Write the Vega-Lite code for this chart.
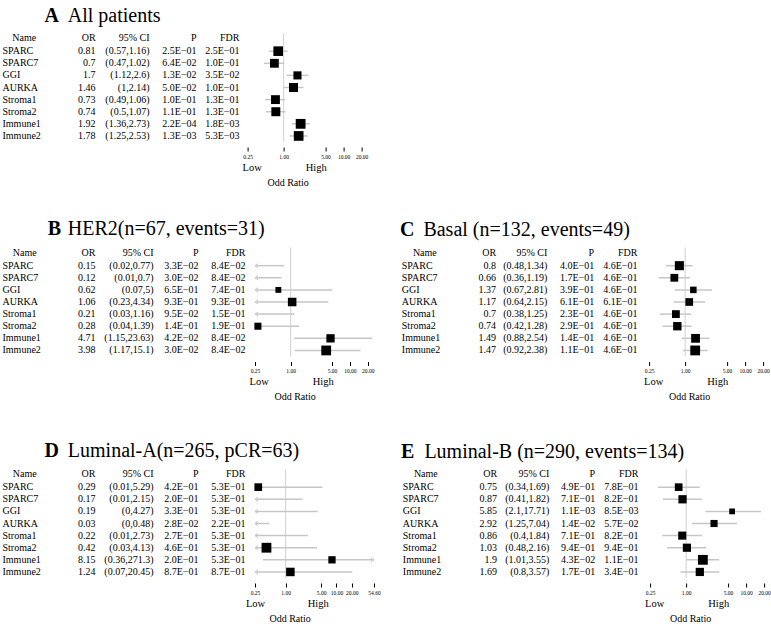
{
"$schema": "https://vega.github.io/schema/vega-lite/v6.json",
"background": "white",
"padding": {"left": 0, "top": 6, "right": 0, "bottom": 0},
"autosize": {"type": "pad"},
"config": {
 "view": {"stroke": null},
 "font": "Liberation Serif",
 "text": {"font": "Liberation Serif", "fontSize": 10, "color": "black"},
 "scale": {"bandPaddingInner": 0, "bandPaddingOuter": 0},
 "axisY": {"disable": true},
 "axisBand": {"disable": true},
 "axis": {"domain": false, "grid": false, "labelFont": "Liberation Serif", "labelColor": "black", "labelFlush": false, "labelOverlap": false}
},
"datasets": {
 "hdrs": [{"k":"ors","label":"OR"},{"k":"ci","label":"95% CI"},{"k":"p","label":"P"},{"k":"fdr","label":"FDR"}],
 "panels": [
  {"g":"A","letter":"A","title":"All patients"},
  {"g":"B","letter":"B","title":"HER2(n=67, events=31)"},
  {"g":"C","letter":"C","title":"Basal (n=132, events=49)"},
  {"g":"D","letter":"D","title":"Luminal-A(n=265, pCR=63)"},
  {"g":"E","letter":"E","title":"Luminal-B (n=290, events=134)"}
 ],
 "rows": [
  {"g":"A","name":"SPARC","or":0.81,"lo":0.57,"hi":1.16,"p":"2.5E−01","fdr":"2.5E−01"},
  {"g":"A","name":"SPARC7","or":0.7,"lo":0.47,"hi":1.02,"p":"6.4E−02","fdr":"1.0E−01"},
  {"g":"A","name":"GGI","or":1.7,"lo":1.12,"hi":2.6,"p":"1.3E−02","fdr":"3.5E−02"},
  {"g":"A","name":"AURKA","or":1.46,"lo":1,"hi":2.14,"p":"5.0E−02","fdr":"1.0E−01"},
  {"g":"A","name":"Stroma1","or":0.73,"lo":0.49,"hi":1.06,"p":"1.0E−01","fdr":"1.3E−01"},
  {"g":"A","name":"Stroma2","or":0.74,"lo":0.5,"hi":1.07,"p":"1.1E−01","fdr":"1.3E−01"},
  {"g":"A","name":"Immune1","or":1.92,"lo":1.36,"hi":2.73,"p":"2.2E−04","fdr":"1.8E−03"},
  {"g":"A","name":"Immune2","or":1.78,"lo":1.25,"hi":2.53,"p":"1.3E−03","fdr":"5.3E−03"},
  {"g":"B","name":"SPARC","or":0.15,"lo":0.02,"hi":0.77,"p":"3.3E−02","fdr":"8.4E−02"},
  {"g":"B","name":"SPARC7","or":0.12,"lo":0.01,"hi":0.7,"p":"3.0E−02","fdr":"8.4E−02"},
  {"g":"B","name":"GGI","or":0.62,"lo":0.07,"hi":5,"p":"6.5E−01","fdr":"7.4E−01"},
  {"g":"B","name":"AURKA","or":1.06,"lo":0.23,"hi":4.34,"p":"9.3E−01","fdr":"9.3E−01"},
  {"g":"B","name":"Stroma1","or":0.21,"lo":0.03,"hi":1.16,"p":"9.5E−02","fdr":"1.5E−01"},
  {"g":"B","name":"Stroma2","or":0.28,"lo":0.04,"hi":1.39,"p":"1.4E−01","fdr":"1.9E−01"},
  {"g":"B","name":"Immune1","or":4.71,"lo":1.15,"hi":23.63,"p":"4.2E−02","fdr":"8.4E−02"},
  {"g":"B","name":"Immune2","or":3.98,"lo":1.17,"hi":15.1,"p":"3.0E−02","fdr":"8.4E−02"},
  {"g":"C","name":"SPARC","or":0.8,"lo":0.48,"hi":1.34,"p":"4.0E−01","fdr":"4.6E−01"},
  {"g":"C","name":"SPARC7","or":0.66,"lo":0.36,"hi":1.19,"p":"1.7E−01","fdr":"4.6E−01"},
  {"g":"C","name":"GGI","or":1.37,"lo":0.67,"hi":2.81,"p":"3.9E−01","fdr":"4.6E−01"},
  {"g":"C","name":"AURKA","or":1.17,"lo":0.64,"hi":2.15,"p":"6.1E−01","fdr":"6.1E−01"},
  {"g":"C","name":"Stroma1","or":0.7,"lo":0.38,"hi":1.25,"p":"2.3E−01","fdr":"4.6E−01"},
  {"g":"C","name":"Stroma2","or":0.74,"lo":0.42,"hi":1.28,"p":"2.9E−01","fdr":"4.6E−01"},
  {"g":"C","name":"Immune1","or":1.49,"lo":0.88,"hi":2.54,"p":"1.4E−01","fdr":"4.6E−01"},
  {"g":"C","name":"Immune2","or":1.47,"lo":0.92,"hi":2.38,"p":"1.1E−01","fdr":"4.6E−01"},
  {"g":"D","name":"SPARC","or":0.29,"lo":0.01,"hi":5.29,"p":"4.2E−01","fdr":"5.3E−01"},
  {"g":"D","name":"SPARC7","or":0.17,"lo":0.01,"hi":2.15,"p":"2.0E−01","fdr":"5.3E−01"},
  {"g":"D","name":"GGI","or":0.19,"lo":0,"hi":4.27,"p":"3.3E−01","fdr":"5.3E−01"},
  {"g":"D","name":"AURKA","or":0.03,"lo":0,"hi":0.48,"p":"2.8E−02","fdr":"2.2E−01"},
  {"g":"D","name":"Stroma1","or":0.22,"lo":0.01,"hi":2.73,"p":"2.7E−01","fdr":"5.3E−01"},
  {"g":"D","name":"Stroma2","or":0.42,"lo":0.03,"hi":4.13,"p":"4.6E−01","fdr":"5.3E−01"},
  {"g":"D","name":"Immune1","or":8.15,"lo":0.36,"hi":271.3,"p":"2.0E−01","fdr":"5.3E−01"},
  {"g":"D","name":"Immune2","or":1.24,"lo":0.07,"hi":20.45,"p":"8.7E−01","fdr":"8.7E−01"},
  {"g":"E","name":"SPARC","or":0.75,"lo":0.34,"hi":1.69,"p":"4.9E−01","fdr":"7.8E−01"},
  {"g":"E","name":"SPARC7","or":0.87,"lo":0.41,"hi":1.82,"p":"7.1E−01","fdr":"8.2E−01"},
  {"g":"E","name":"GGI","or":5.85,"lo":2.1,"hi":17.71,"p":"1.1E−03","fdr":"8.5E−03"},
  {"g":"E","name":"AURKA","or":2.92,"lo":1.25,"hi":7.04,"p":"1.4E−02","fdr":"5.7E−02"},
  {"g":"E","name":"Stroma1","or":0.86,"lo":0.4,"hi":1.84,"p":"7.1E−01","fdr":"8.2E−01"},
  {"g":"E","name":"Stroma2","or":1.03,"lo":0.48,"hi":2.16,"p":"9.4E−01","fdr":"9.4E−01"},
  {"g":"E","name":"Immune1","or":1.9,"lo":1.01,"hi":3.55,"p":"4.3E−02","fdr":"1.1E−01"},
  {"g":"E","name":"Immune2","or":1.69,"lo":0.8,"hi":3.57,"p":"1.7E−01","fdr":"3.4E−01"}
 ]
},
"spacing": 30.5,
"vconcat": [
 {"hconcat": [
  {"width": 242.9, "height": 109, "layer": [
   {"data":{"name":"rows"},"transform":[{"filter":"datum.g=='A'"},{"calculate":"'('+datum.lo+','+datum.hi+')'","as":"ci"},{"calculate":"''+datum.or","as":"ors"},{"fold":["ors","ci","p","fdr"]}],
    "mark":{"type":"text","align":"right","dx":{"expr":"datum.key=='ors'?-1.6:datum.key=='ci'?3.8:datum.key=='p'?2.2:-3.4"}},
    "encoding":{"x":{"field":"key","type":"nominal","bandPosition":1,"scale":{"type":"band","domain":["name","ors","ci","p","fdr"]}},
     "y":{"field":"name","type":"nominal","scale":{"type":"band","domain":["hdr","SPARC","SPARC7","GGI","AURKA","Stroma1","Stroma2","Immune1","Immune2"]}},
     "text":{"field":"value","type":"nominal"}}},
   {"data":{"name":"rows"},"transform":[{"filter":"datum.g=='A'"}],"mark":{"type":"text","align":"left","dx":2.5},
    "encoding":{"x":{"datum":"name","bandPosition":0},"y":{"field":"name","type":"nominal"},"text":{"field":"name","type":"nominal"}}},
   {"data":{"name":"hdrs"},"mark":{"type":"text","align":"right","dy":-1,"dx":{"expr":"datum.k=='ors'?-1.6:datum.k=='ci'?3.8:datum.k=='p'?2.2:-3.4"}},
    "encoding":{"x":{"field":"k","type":"nominal","bandPosition":1},"y":{"datum":"hdr"},"text":{"field":"label","type":"nominal"}}},
   {"data":{"values":[{"label":"Name"}]},"mark":{"type":"text","align":"center","dy":-1},
    "encoding":{"x":{"datum":"name","bandPosition":0.5},"y":{"datum":"hdr"},"text":{"field":"label","type":"nominal"}}},
   {"data":{"name":"panels"},"transform":[{"filter":"datum.g=='A'"}],"mark":{"type":"text","align":"left","baseline":"alphabetic","fontSize":20,"fontWeight":"bold","dx":44.5,"dy":-16.9},
    "encoding":{"x":{"datum":"name","bandPosition":0},"y":{"datum":"hdr"},"text":{"field":"letter","type":"nominal"}}},
   {"data":{"name":"panels"},"transform":[{"filter":"datum.g=='A'"}],"mark":{"type":"text","align":"left","baseline":"alphabetic","fontSize":20,"dx":67.8,"dy":-16.9},
    "encoding":{"x":{"datum":"name","bandPosition":0},"y":{"datum":"hdr"},"text":{"field":"title","type":"nominal"}}}
  ]},
  {"width": 114, "height": 109, "resolve": {"axis": {"x": "independent"}}, "layer": [
   {"data":{"values":[{}]},"mark":{"type":"rule","color":"#d0d0d0","strokeWidth":1},
    "encoding":{"x":{"datum":1,"type":"quantitative","scale":{"type":"log","domain":[0.25,20],"clamp":true,"nice":false},
     "axis":{"orient":"bottom","values":[0.292,3.42],"labelExpr":"datum.value < 1 ? 'Low' : 'High'","ticks":false,"tickSize":0,"labelFontSize":10.5,"labelPadding":20.3,"title":null}}}},
   {"data":{"name":"rows"},"transform":[{"filter":"datum.g=='A'"}],"mark":{"type":"rule","color":"#c6c6c6","strokeWidth":1.5,"invalid":"show"},
    "encoding":{"x":{"field":"lo","type":"quantitative","scale":{"type":"log","domain":[0.25,20],"clamp":true,"nice":false},
     "axis":{"orient":"bottom","values":[0.25,1,5,10,20],"format":".2f","tickSize":4,"tickColor":"black","labelFontSize":5.5,"labelPadding":3,"offset":5,"title":null}},
     "x2":{"field":"hi"},
     "y":{"field":"name","type":"nominal","scale":{"type":"band","domain":["hdr","SPARC","SPARC7","GGI","AURKA","Stroma1","Stroma2","Immune1","Immune2"]}}}},
   {"data":{"name":"rows"},"transform":[{"filter":"datum.g=='A'"},{"calculate":"1/(log(datum.hi)-log(datum.lo))","as":"w"},{"joinaggregate":[{"op":"max","field":"w","as":"mw"}]},{"calculate":"datum.w/datum.mw","as":"rel"},{"filter":"datum.or >= 0.25"}],
    "mark":{"type":"point","shape":"square","filled":true,"color":"black","opacity":1},
    "encoding":{"x":{"field":"or","type":"quantitative","scale":{"type":"log","domain":[0.25,20],"clamp":true,"nice":false},
     "axis":{"orient":"bottom","values":[1.166],"labelExpr":"'Odd Ratio'","ticks":false,"tickSize":0,"labelFontSize":10,"labelPadding":35.3,"title":null}},
     "y":{"field":"name","type":"nominal"},
     "size":{"field":"rel","type":"quantitative","scale":{"type":"pow","exponent":2,"domain":[0,1],"range":[0,96]},"legend":null}}}
  ]}
 ], "spacing": 4.6, "bounds": "flush"},
 {"spacing": 37.5, "vconcat": [
  {"spacing": 26, "hconcat": [
   {"spacing": 7, "bounds": "flush", "hconcat": [
    {"width": 247.5, "height": 109, "layer": [
     {"data":{"name":"rows"},"transform":[{"filter":"datum.g=='B'"},{"calculate":"'('+datum.lo+','+datum.hi+')'","as":"ci"},{"calculate":"''+datum.or","as":"ors"},{"fold":["ors","ci","p","fdr"]}],
      "mark":{"type":"text","align":"right","dx":{"expr":"datum.key=='ors'?-3.5:datum.key=='ci'?5:datum.key=='p'?0.5:-2"}},
      "encoding":{"x":{"field":"key","type":"nominal","bandPosition":1,"scale":{"type":"band","domain":["name","ors","ci","p","fdr"]}},
       "y":{"field":"name","type":"nominal","scale":{"type":"band","domain":["hdr","SPARC","SPARC7","GGI","AURKA","Stroma1","Stroma2","Immune1","Immune2"]}},
       "text":{"field":"value","type":"nominal"}}},
     {"data":{"name":"rows"},"transform":[{"filter":"datum.g=='B'"}],"mark":{"type":"text","align":"left","dx":2.5},
      "encoding":{"x":{"datum":"name","bandPosition":0},"y":{"field":"name","type":"nominal"},"text":{"field":"name","type":"nominal"}}},
     {"data":{"name":"hdrs"},"mark":{"type":"text","align":"right","dy":-1,"dx":{"expr":"datum.k=='ors'?-3.5:datum.k=='ci'?5:datum.k=='p'?0.5:-2"}},
      "encoding":{"x":{"field":"k","type":"nominal","bandPosition":1},"y":{"datum":"hdr"},"text":{"field":"label","type":"nominal"}}},
     {"data":{"values":[{"label":"Name"}]},"mark":{"type":"text","align":"center","dy":-1},
      "encoding":{"x":{"datum":"name","bandPosition":0.5},"y":{"datum":"hdr"},"text":{"field":"label","type":"nominal"}}},
     {"data":{"name":"panels"},"transform":[{"filter":"datum.g=='B'"}],"mark":{"type":"text","align":"left","baseline":"alphabetic","fontSize":20,"fontWeight":"bold","dx":47.8,"dy":-18.5},
      "encoding":{"x":{"datum":"name","bandPosition":0},"y":{"datum":"hdr"},"text":{"field":"letter","type":"nominal"}}},
     {"data":{"name":"panels"},"transform":[{"filter":"datum.g=='B'"}],"mark":{"type":"text","align":"left","baseline":"alphabetic","fontSize":20,"dx":67.8,"dy":-18.5},
      "encoding":{"x":{"datum":"name","bandPosition":0},"y":{"datum":"hdr"},"text":{"field":"title","type":"nominal"}}}
    ]},
    {"width": 117, "height": 109, "resolve": {"axis": {"x": "independent"}}, "layer": [
     {"data":{"values":[{}]},"mark":{"type":"rule","color":"#d0d0d0","strokeWidth":1},
      "encoding":{"x":{"datum":1,"type":"quantitative","scale":{"type":"log","domain":[0.25,23.63],"clamp":true,"nice":false},
       "axis":{"orient":"bottom","values":[0.288,3.47],"labelExpr":"datum.value < 1 ? 'Low' : 'High'","ticks":false,"tickSize":0,"labelFontSize":10.5,"labelPadding":20.3,"title":null}}}},
     {"data":{"name":"rows"},"transform":[{"filter":"datum.g=='B'"}],"mark":{"type":"rule","color":"#c6c6c6","strokeWidth":1.5,"invalid":"show"},
      "encoding":{"x":{"field":"lo","type":"quantitative","scale":{"type":"log","domain":[0.25,23.63],"clamp":true,"nice":false},
       "axis":{"orient":"bottom","values":[0.25,1,5,10,20],"format":".2f","tickSize":4,"tickColor":"black","labelFontSize":5.5,"labelPadding":3,"offset":5,"title":null}},
       "x2":{"field":"hi"},
       "y":{"field":"name","type":"nominal","scale":{"type":"band","domain":["hdr","SPARC","SPARC7","GGI","AURKA","Stroma1","Stroma2","Immune1","Immune2"]}}}},
     {"data":{"name":"rows"},"transform":[{"filter":"datum.g=='B' && datum.lo < 0.25"}],
      "mark":{"type":"point","shape":"M1.5,-1L0,0L1.5,1","filled":false,"color":"#c6c6c6","strokeWidth":1,"size":16,"opacity":1,"invalid":"show"},
      "encoding":{"x":{"field":"lo","type":"quantitative","scale":{"type":"log","domain":[0.25,23.63],"clamp":true,"nice":false},"axis":null},
       "y":{"field":"name","type":"nominal"}}},
     {"data":{"name":"rows"},"transform":[{"filter":"datum.g=='B'"},{"calculate":"1/(log(datum.hi)-log(datum.lo))","as":"w"},{"joinaggregate":[{"op":"max","field":"w","as":"mw"}]},{"calculate":"datum.w/datum.mw","as":"rel"},{"filter":"datum.or >= 0.25"}],
      "mark":{"type":"point","shape":"square","filled":true,"color":"black","opacity":1},
      "encoding":{"x":{"field":"or","type":"quantitative","scale":{"type":"log","domain":[0.25,23.63],"clamp":true,"nice":false},
       "axis":{"orient":"bottom","values":[1.168],"labelExpr":"'Odd Ratio'","ticks":false,"tickSize":0,"labelFontSize":10,"labelPadding":35.3,"title":null}},
       "y":{"field":"name","type":"nominal"},
       "size":{"field":"rel","type":"quantitative","scale":{"type":"pow","exponent":2,"domain":[0,1],"range":[0,96]},"legend":null}}}
    ]}
   ]},
   {"spacing": 9.1, "bounds": "flush", "hconcat": [
    {"width": 235.3, "height": 109, "layer": [
     {"data":{"name":"rows"},"transform":[{"filter":"datum.g=='C'"},{"calculate":"'('+datum.lo+','+datum.hi+')'","as":"ci"},{"calculate":"''+datum.or","as":"ors"},{"fold":["ors","ci","p","fdr"]}],
      "mark":{"type":"text","align":"right","dx":{"expr":"datum.key=='ors'?-2:datum.key=='ci'?2.2:datum.key=='p'?1.9:-1.9"}},
      "encoding":{"x":{"field":"key","type":"nominal","bandPosition":1,"scale":{"type":"band","domain":["name","ors","ci","p","fdr"]}},
       "y":{"field":"name","type":"nominal","scale":{"type":"band","domain":["hdr","SPARC","SPARC7","GGI","AURKA","Stroma1","Stroma2","Immune1","Immune2"]}},
       "text":{"field":"value","type":"nominal"}}},
     {"data":{"name":"rows"},"transform":[{"filter":"datum.g=='C'"}],"mark":{"type":"text","align":"left","dx":-2.2},
      "encoding":{"x":{"datum":"name","bandPosition":0},"y":{"field":"name","type":"nominal"},"text":{"field":"name","type":"nominal"}}},
     {"data":{"name":"hdrs"},"mark":{"type":"text","align":"right","dy":-1,"dx":{"expr":"datum.k=='ors'?-2:datum.k=='ci'?2.2:datum.k=='p'?1.9:-1.9"}},
      "encoding":{"x":{"field":"k","type":"nominal","bandPosition":1},"y":{"datum":"hdr"},"text":{"field":"label","type":"nominal"}}},
     {"data":{"values":[{"label":"Name"}]},"mark":{"type":"text","align":"center","dy":-1,"dx":-2.7},
      "encoding":{"x":{"datum":"name","bandPosition":0.5},"y":{"datum":"hdr"},"text":{"field":"label","type":"nominal"}}},
     {"data":{"name":"panels"},"transform":[{"filter":"datum.g=='C'"}],"mark":{"type":"text","align":"left","baseline":"alphabetic","fontSize":20,"fontWeight":"bold","dx":-3.9,"dy":-17.9},
      "encoding":{"x":{"datum":"name","bandPosition":0},"y":{"datum":"hdr"},"text":{"field":"letter","type":"nominal"}}},
     {"data":{"name":"panels"},"transform":[{"filter":"datum.g=='C'"}],"mark":{"type":"text","align":"left","baseline":"alphabetic","fontSize":20,"dx":19.4,"dy":-17.9},
      "encoding":{"x":{"datum":"name","bandPosition":0},"y":{"datum":"hdr"},"text":{"field":"title","type":"nominal"}}}
    ]},
    {"width": 114, "height": 109, "resolve": {"axis": {"x": "independent"}}, "layer": [
     {"data":{"values":[{}]},"mark":{"type":"rule","color":"#d0d0d0","strokeWidth":1},
      "encoding":{"x":{"datum":1,"type":"quantitative","scale":{"type":"log","domain":[0.25,20],"clamp":true,"nice":false},
       "axis":{"orient":"bottom","values":[0.292,3.42],"labelExpr":"datum.value < 1 ? 'Low' : 'High'","ticks":false,"tickSize":0,"labelFontSize":10.5,"labelPadding":20.3,"title":null}}}},
     {"data":{"name":"rows"},"transform":[{"filter":"datum.g=='C'"}],"mark":{"type":"rule","color":"#c6c6c6","strokeWidth":1.5,"invalid":"show"},
      "encoding":{"x":{"field":"lo","type":"quantitative","scale":{"type":"log","domain":[0.25,20],"clamp":true,"nice":false},
       "axis":{"orient":"bottom","values":[0.25,1,5,10,20],"format":".2f","tickSize":4,"tickColor":"black","labelFontSize":5.5,"labelPadding":3,"offset":5,"title":null}},
       "x2":{"field":"hi"},
       "y":{"field":"name","type":"nominal","scale":{"type":"band","domain":["hdr","SPARC","SPARC7","GGI","AURKA","Stroma1","Stroma2","Immune1","Immune2"]}}}},
     {"data":{"name":"rows"},"transform":[{"filter":"datum.g=='C'"},{"calculate":"1/(log(datum.hi)-log(datum.lo))","as":"w"},{"joinaggregate":[{"op":"max","field":"w","as":"mw"}]},{"calculate":"datum.w/datum.mw","as":"rel"},{"filter":"datum.or >= 0.25"}],
      "mark":{"type":"point","shape":"square","filled":true,"color":"black","opacity":1},
      "encoding":{"x":{"field":"or","type":"quantitative","scale":{"type":"log","domain":[0.25,20],"clamp":true,"nice":false},
       "axis":{"orient":"bottom","values":[1.166],"labelExpr":"'Odd Ratio'","ticks":false,"tickSize":0,"labelFontSize":10,"labelPadding":35.3,"title":null}},
       "y":{"field":"name","type":"nominal"},
       "size":{"field":"rel","type":"quantitative","scale":{"type":"pow","exponent":2,"domain":[0,1],"range":[0,96]},"legend":null}}}
    ]}
   ]}
  ]},
  {"spacing": 20, "hconcat": [
   {"spacing": 7, "bounds": "flush", "hconcat": [
    {"width": 247.5, "height": 109, "layer": [
     {"data":{"name":"rows"},"transform":[{"filter":"datum.g=='D'"},{"calculate":"'('+datum.lo+','+datum.hi+')'","as":"ci"},{"calculate":"''+datum.or","as":"ors"},{"fold":["ors","ci","p","fdr"]}],
      "mark":{"type":"text","align":"right","dx":{"expr":"datum.key=='ors'?-3.5:datum.key=='ci'?5:datum.key=='p'?0.5:-2"}},
      "encoding":{"x":{"field":"key","type":"nominal","bandPosition":1,"scale":{"type":"band","domain":["name","ors","ci","p","fdr"]}},
       "y":{"field":"name","type":"nominal","scale":{"type":"band","domain":["hdr","SPARC","SPARC7","GGI","AURKA","Stroma1","Stroma2","Immune1","Immune2"]}},
       "text":{"field":"value","type":"nominal"}}},
     {"data":{"name":"rows"},"transform":[{"filter":"datum.g=='D'"}],"mark":{"type":"text","align":"left","dx":2.5},
      "encoding":{"x":{"datum":"name","bandPosition":0},"y":{"field":"name","type":"nominal"},"text":{"field":"name","type":"nominal"}}},
     {"data":{"name":"hdrs"},"mark":{"type":"text","align":"right","dy":-1,"dx":{"expr":"datum.k=='ors'?-3.5:datum.k=='ci'?5:datum.k=='p'?0.5:-2"}},
      "encoding":{"x":{"field":"k","type":"nominal","bandPosition":1},"y":{"datum":"hdr"},"text":{"field":"label","type":"nominal"}}},
     {"data":{"values":[{"label":"Name"}]},"mark":{"type":"text","align":"center","dy":-1},
      "encoding":{"x":{"datum":"name","bandPosition":0.5},"y":{"datum":"hdr"},"text":{"field":"label","type":"nominal"}}},
     {"data":{"name":"panels"},"transform":[{"filter":"datum.g=='D'"}],"mark":{"type":"text","align":"left","baseline":"alphabetic","fontSize":20,"fontWeight":"bold","dx":44.5,"dy":-18.2},
      "encoding":{"x":{"datum":"name","bandPosition":0},"y":{"datum":"hdr"},"text":{"field":"letter","type":"nominal"}}},
     {"data":{"name":"panels"},"transform":[{"filter":"datum.g=='D'"}],"mark":{"type":"text","align":"left","baseline":"alphabetic","fontSize":20,"dx":67.8,"dy":-18.2},
      "encoding":{"x":{"datum":"name","bandPosition":0},"y":{"datum":"hdr"},"text":{"field":"title","type":"nominal"}}}
    ]},
    {"width": 119, "height": 109, "resolve": {"axis": {"x": "independent"}}, "layer": [
     {"data":{"values":[{}]},"mark":{"type":"rule","color":"#d0d0d0","strokeWidth":1},
      "encoding":{"x":{"datum":1,"type":"quantitative","scale":{"type":"log","domain":[0.25,54.6],"clamp":true,"nice":false},
       "axis":{"orient":"bottom","values":[0.25,4.26],"labelExpr":"datum.value < 1 ? 'Low' : 'High'","ticks":false,"tickSize":0,"labelFontSize":10.5,"labelPadding":20.3,"title":null}}}},
     {"data":{"name":"rows"},"transform":[{"filter":"datum.g=='D'"}],"mark":{"type":"rule","color":"#c6c6c6","strokeWidth":1.5,"invalid":"show"},
      "encoding":{"x":{"field":"lo","type":"quantitative","scale":{"type":"log","domain":[0.25,54.6],"clamp":true,"nice":false},
       "axis":{"orient":"bottom","values":[0.25,1,5,10,20,54.6],"format":".2f","tickSize":4,"tickColor":"black","labelFontSize":5.5,"labelPadding":3,"offset":5,"title":null}},
       "x2":{"field":"hi"},
       "y":{"field":"name","type":"nominal","scale":{"type":"band","domain":["hdr","SPARC","SPARC7","GGI","AURKA","Stroma1","Stroma2","Immune1","Immune2"]}}}},
     {"data":{"name":"rows"},"transform":[{"filter":"datum.g=='D' && datum.lo < 0.25"}],
      "mark":{"type":"point","shape":"M1.5,-1L0,0L1.5,1","filled":false,"color":"#c6c6c6","strokeWidth":1,"size":16,"opacity":1,"invalid":"show"},
      "encoding":{"x":{"field":"lo","type":"quantitative","scale":{"type":"log","domain":[0.25,54.6],"clamp":true,"nice":false},"axis":null},
       "y":{"field":"name","type":"nominal"}}},
     {"data":{"name":"rows"},"transform":[{"filter":"datum.g=='D' && datum.hi > 54.6"}],
      "mark":{"type":"point","shape":"M-1.5,-1L0,0L-1.5,1","filled":false,"color":"#c6c6c6","strokeWidth":1,"size":16,"opacity":1},
      "encoding":{"x":{"field":"hi","type":"quantitative","scale":{"type":"log","domain":[0.25,54.6],"clamp":true,"nice":false},"axis":null},
       "y":{"field":"name","type":"nominal"}}},
     {"data":{"name":"rows"},"transform":[{"filter":"datum.g=='D'"},{"calculate":"1/(log(datum.hi)-log(datum.lo))","as":"w"},{"joinaggregate":[{"op":"max","field":"w","as":"mw"}]},{"calculate":"datum.w/datum.mw","as":"rel"},{"filter":"datum.or >= 0.25"}],
      "mark":{"type":"point","shape":"square","filled":true,"color":"black","opacity":1},
      "encoding":{"x":{"field":"or","type":"quantitative","scale":{"type":"log","domain":[0.25,54.6],"clamp":true,"nice":false},
       "axis":{"orient":"bottom","values":[1.198],"labelExpr":"'Odd Ratio'","ticks":false,"tickSize":0,"labelFontSize":10,"labelPadding":35.3,"title":null}},
       "y":{"field":"name","type":"nominal"},
       "size":{"field":"rel","type":"quantitative","scale":{"type":"pow","exponent":2,"domain":[0,1],"range":[0,96]},"legend":null}}}
    ]}
   ]},
   {"spacing": 9.1, "bounds": "flush", "hconcat": [
    {"width": 235.3, "height": 109, "layer": [
     {"data":{"name":"rows"},"transform":[{"filter":"datum.g=='E'"},{"calculate":"'('+datum.lo+','+datum.hi+')'","as":"ci"},{"calculate":"''+datum.or","as":"ors"},{"fold":["ors","ci","p","fdr"]}],
      "mark":{"type":"text","align":"right","dx":{"expr":"datum.key=='ors'?-2:datum.key=='ci'?3.2:datum.key=='p'?1.9:-1.9"}},
      "encoding":{"x":{"field":"key","type":"nominal","bandPosition":1,"scale":{"type":"band","domain":["name","ors","ci","p","fdr"]}},
       "y":{"field":"name","type":"nominal","scale":{"type":"band","domain":["hdr","SPARC","SPARC7","GGI","AURKA","Stroma1","Stroma2","Immune1","Immune2"]}},
       "text":{"field":"value","type":"nominal"}}},
     {"data":{"name":"rows"},"transform":[{"filter":"datum.g=='E'"}],"mark":{"type":"text","align":"left","dx":-2.2},
      "encoding":{"x":{"datum":"name","bandPosition":0},"y":{"field":"name","type":"nominal"},"text":{"field":"name","type":"nominal"}}},
     {"data":{"name":"hdrs"},"mark":{"type":"text","align":"right","dy":-1,"dx":{"expr":"datum.k=='ors'?-2:datum.k=='ci'?3.2:datum.k=='p'?1.9:-1.9"}},
      "encoding":{"x":{"field":"k","type":"nominal","bandPosition":1},"y":{"datum":"hdr"},"text":{"field":"label","type":"nominal"}}},
     {"data":{"values":[{"label":"Name"}]},"mark":{"type":"text","align":"center","dy":-1,"dx":-2.7},
      "encoding":{"x":{"datum":"name","bandPosition":0.5},"y":{"datum":"hdr"},"text":{"field":"label","type":"nominal"}}},
     {"data":{"name":"panels"},"transform":[{"filter":"datum.g=='E'"}],"mark":{"type":"text","align":"left","baseline":"alphabetic","fontSize":20,"fontWeight":"bold","dx":-3.9,"dy":-17.2},
      "encoding":{"x":{"datum":"name","bandPosition":0},"y":{"datum":"hdr"},"text":{"field":"letter","type":"nominal"}}},
     {"data":{"name":"panels"},"transform":[{"filter":"datum.g=='E'"}],"mark":{"type":"text","align":"left","baseline":"alphabetic","fontSize":20,"dx":19.4,"dy":-17.2},
      "encoding":{"x":{"datum":"name","bandPosition":0},"y":{"datum":"hdr"},"text":{"field":"title","type":"nominal"}}}
    ]},
    {"width": 114, "height": 109, "resolve": {"axis": {"x": "independent"}}, "layer": [
     {"data":{"values":[{}]},"mark":{"type":"rule","color":"#d0d0d0","strokeWidth":1},
      "encoding":{"x":{"datum":1,"type":"quantitative","scale":{"type":"log","domain":[0.25,20],"clamp":true,"nice":false},
       "axis":{"orient":"bottom","values":[0.292,3.42],"labelExpr":"datum.value < 1 ? 'Low' : 'High'","ticks":false,"tickSize":0,"labelFontSize":10.5,"labelPadding":20.3,"title":null}}}},
     {"data":{"name":"rows"},"transform":[{"filter":"datum.g=='E'"}],"mark":{"type":"rule","color":"#c6c6c6","strokeWidth":1.5,"invalid":"show"},
      "encoding":{"x":{"field":"lo","type":"quantitative","scale":{"type":"log","domain":[0.25,20],"clamp":true,"nice":false},
       "axis":{"orient":"bottom","values":[0.25,1,5,10,20],"format":".2f","tickSize":4,"tickColor":"black","labelFontSize":5.5,"labelPadding":3,"offset":5,"title":null}},
       "x2":{"field":"hi"},
       "y":{"field":"name","type":"nominal","scale":{"type":"band","domain":["hdr","SPARC","SPARC7","GGI","AURKA","Stroma1","Stroma2","Immune1","Immune2"]}}}},
     {"data":{"name":"rows"},"transform":[{"filter":"datum.g=='E'"},{"calculate":"1/(log(datum.hi)-log(datum.lo))","as":"w"},{"joinaggregate":[{"op":"max","field":"w","as":"mw"}]},{"calculate":"datum.w/datum.mw","as":"rel"},{"filter":"datum.or >= 0.25"}],
      "mark":{"type":"point","shape":"square","filled":true,"color":"black","opacity":1},
      "encoding":{"x":{"field":"or","type":"quantitative","scale":{"type":"log","domain":[0.25,20],"clamp":true,"nice":false},
       "axis":{"orient":"bottom","values":[1.166],"labelExpr":"'Odd Ratio'","ticks":false,"tickSize":0,"labelFontSize":10,"labelPadding":35.3,"title":null}},
       "y":{"field":"name","type":"nominal"},
       "size":{"field":"rel","type":"quantitative","scale":{"type":"pow","exponent":2,"domain":[0,1],"range":[0,96]},"legend":null}}}
    ]}
   ]}
  ]}
 ]}
]
}
